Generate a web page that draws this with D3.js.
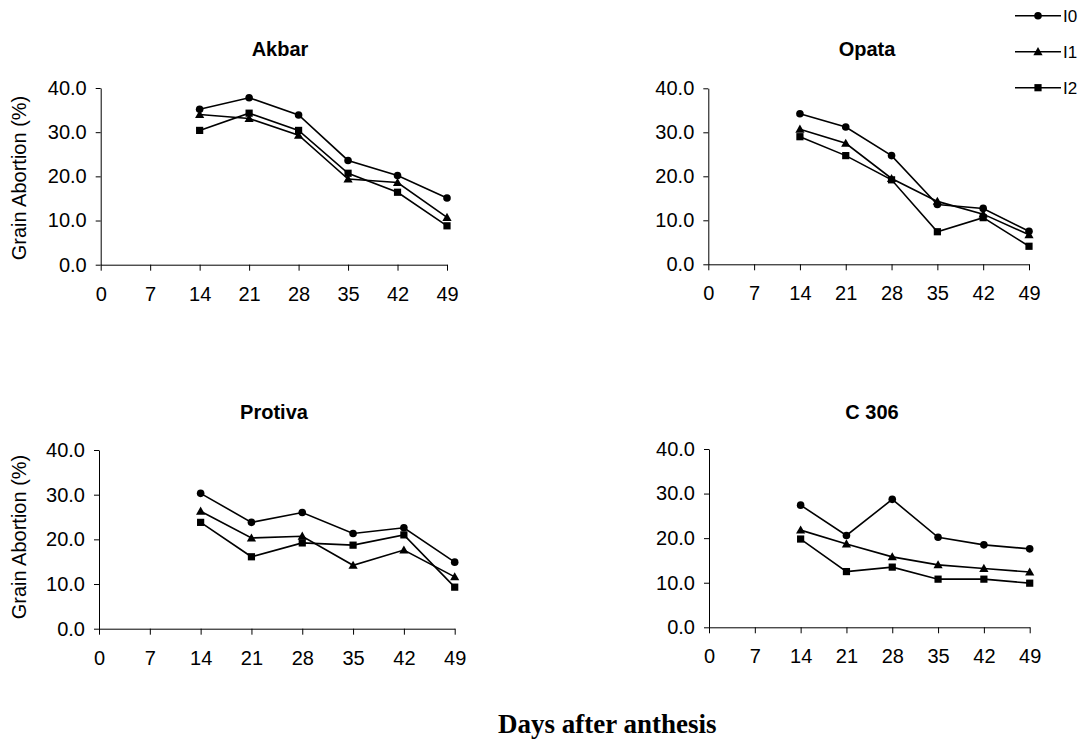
<!DOCTYPE html>
<html><head><meta charset="utf-8">
<script src="https://cdn.jsdelivr.net/npm/d3@7"></script>
<style>body{margin:0;background:#fff;} svg{display:block;}</style>
</head><body>
<svg id="c" width="1088" height="742"></svg>
<script>
const days = [14, 21, 28, 35, 42, 49];
const xTicks = [0, 7, 14, 21, 28, 35, 42, 49];
const yTicks = [0, 10, 20, 30, 40];
const seriesNames = ["I0", "I1", "I2"];
const markers = ["circle", "triangle", "square"];

const akbarI0 = [35.2, 37.8, 33.9, 23.6, 20.2, 15.1];
const akbarI1 = [34.0, 33.1, 29.3, 19.4, 18.6, 10.7];
const akbarI2 = [30.4, 34.3, 30.4, 20.7, 16.4, 8.8];

const opataI0 = [34.2, 31.2, 24.7, 13.6, 12.7, 7.5];
const opataI1 = [30.7, 27.5, 19.5, 14.3, 11.4, 6.7];
const opataI2 = [29.0, 24.7, 19.2, 7.4, 10.6, 4.1];

const protivaI0 = [30.3, 23.8, 26.0, 21.3, 22.6, 14.9];
const protivaI1 = [26.3, 20.3, 20.7, 14.2, 17.6, 11.6];
const protivaI2 = [23.8, 16.1, 19.2, 18.7, 21.0, 9.3];

const c306I0 = [27.4, 20.6, 28.7, 20.2, 18.5, 17.6];
const c306I1 = [21.8, 18.7, 15.8, 14.0, 13.2, 12.4];
const c306I2 = [19.8, 12.5, 13.5, 10.8, 10.8, 9.9];

const panelTitles = ["Akbar", "Opata", "Protiva", "C 306"];
const panelSeries = [
  [akbarI0, akbarI1, akbarI2],
  [opataI0, opataI1, opataI2],
  [protivaI0, protivaI1, protivaI2],
  [c306I0, c306I1, c306I2]
];

const boxes = [
  {x0: 100.7, x1: 447, yb: 264.7, yt: 88, tx: 280, ty: 56, ylabel: true, ly: 178},
  {x0: 708.3, x1: 1029, yb: 264.3, yt: 88.3, tx: 867, ty: 56, ylabel: false},
  {x0: 99, x1: 454.7, yb: 628.7, yt: 450, tx: 274, ty: 418.5, ylabel: true, ly: 537},
  {x0: 709, x1: 1029.7, yb: 627.3, yt: 449, tx: 872, ty: 418.5, ylabel: false}
];

const svg = d3.select("#c");
const font = "'Liberation Sans', Arial, sans-serif";

function drawMarker(g, type, x, y) {
  if (type === "circle") {
    g.append("circle").attr("cx", x).attr("cy", y).attr("r", 3.8).attr("fill", "#000");
  } else if (type === "square") {
    g.append("rect").attr("x", x - 3.6).attr("y", y - 3.6).attr("width", 7.2).attr("height", 7.2).attr("fill", "#000");
  } else {
    const s = 4.6;
    g.append("path").attr("d", `M${x},${y - s}L${x + s},${y + s * 0.75}L${x - s},${y + s * 0.75}Z`).attr("fill", "#000");
  }
}

panelSeries.forEach((series, i) => {
  const b = boxes[i];
  const x = d3.scaleLinear().domain([0, 49]).range([b.x0, b.x1]);
  const y = d3.scaleLinear().domain([0, 40]).range([b.yb, b.yt]);
  const g = svg.append("g");

  const xa = g.append("g").attr("transform", `translate(0,${b.yb})`)
    .call(d3.axisBottom(x).tickValues(xTicks).tickSize(6).tickSizeOuter(0).tickPadding(16).tickFormat(d3.format("d")));
  const ya = g.append("g").attr("transform", `translate(${b.x0},0)`)
    .call(d3.axisLeft(y).tickValues(yTicks).tickSize(5).tickSizeOuter(0).tickPadding(9).tickFormat(d3.format(".1f")));
  [xa, ya].forEach(a => {
    a.select(".domain").attr("stroke", "#000").attr("stroke-width", 1);
    a.selectAll(".tick line").attr("stroke", "#000").attr("stroke-width", 1);
    a.selectAll(".tick text").attr("fill", "#000").style("font-family", font).style("font-size", "20px");
  });

  g.append("text").attr("x", b.tx).attr("y", b.ty)
    .attr("text-anchor", "middle").style("font-family", font).style("font-weight", "bold").style("font-size", "20px")
    .text(panelTitles[i]);

  if (b.ylabel) {
    g.append("text").attr("transform", `translate(26,${b.ly}) rotate(-90)`)
      .attr("text-anchor", "middle").style("font-family", font).style("font-size", "20px")
      .text("Grain Abortion (%)");
  }

  const line = d3.line().x((d, k) => x(days[k])).y(d => y(d));
  series.forEach((vals, s) => {
    g.append("path").attr("d", line(vals)).attr("fill", "none").attr("stroke", "#000").attr("stroke-width", 1.6);
    vals.forEach((v, k) => drawMarker(g, markers[s], x(days[k]), y(v)));
  });
});

const lg = svg.append("g");
const legY = d3.scalePoint().domain(seriesNames).range([15.7, 87.7]);
seriesNames.forEach((n, s) => {
  const yy = legY(n);
  lg.append("line").attr("x1", 1015).attr("x2", 1061).attr("y1", yy).attr("y2", yy).attr("stroke", "#000").attr("stroke-width", 1.6);
  drawMarker(lg, markers[s], 1038, yy);
  lg.append("text").attr("x", 1063).attr("y", yy + 6).style("font-family", font).style("font-size", "17px").text(n);
});

svg.append("text").attr("x", 498).attr("y", 733).attr("text-anchor", "start")
  .style("font-family", "'Liberation Serif', 'Times New Roman', serif").style("font-weight", "bold").style("font-size", "27px")
  .text("Days after anthesis");
</script>
</body></html>
